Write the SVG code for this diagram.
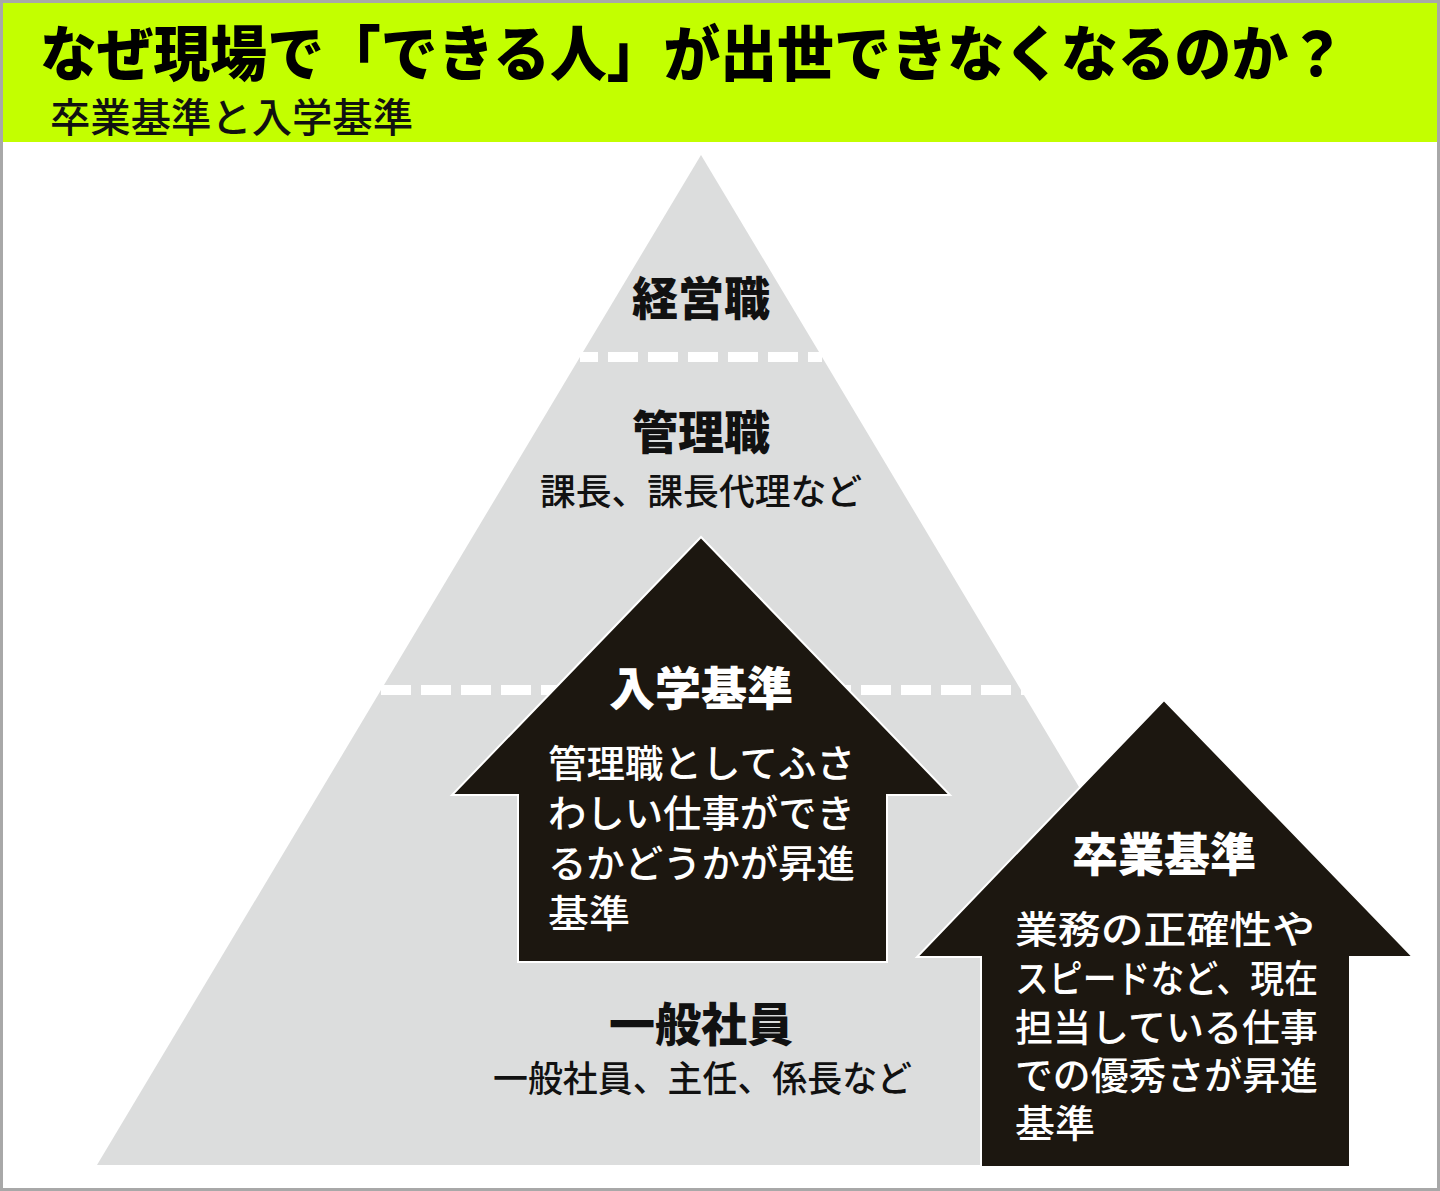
<svg xmlns="http://www.w3.org/2000/svg" width="1440" height="1191" viewBox="0 0 1440 1191">
<style>
text{font-family:"Noto Sans CJK JP","Noto Sans CJK SC",sans-serif;}
.title{font-size:60px;font-weight:900;fill:#000;}
.sub{font-size:40px;font-weight:500;fill:#111;}
.layer{fill:#dcdddd;}
.head{font-size:46px;font-weight:900;fill:#111;text-anchor:middle;}
.desc{font-size:36px;font-weight:500;fill:#111;}
.arrow{fill:#1c1710;stroke:#ffffff;stroke-width:2;stroke-linejoin:miter;}
.ahead{font-size:46px;font-weight:900;fill:#fff;text-anchor:middle;}
.abody{font-size:38px;font-weight:500;fill:#fff;}
.sep{stroke:#ffffff;stroke-width:10;stroke-dasharray:30 10;fill:none;}
</style>
<rect x="0" y="0" width="1440" height="1191" fill="#ffffff"/>
<g id="header">
<rect x="0" y="0" width="1440" height="142" fill="#c3ff00"/>
<rect x="0" y="0" width="1440" height="3" fill="#9ccc00"/>
<text class="title" x="40" y="76" textLength="1305" lengthAdjust="spacingAndGlyphs">なぜ現場で「できる人」が出世できなくなるのか？</text>
<text class="sub" x="50" y="132" textLength="363" lengthAdjust="spacingAndGlyphs">卒業基準と入学基準</text>
</g>
<g id="layer-executive">
<polygon class="layer" points="701,155 822,357 580,357"/>
<text class="head" x="701" y="315">経営職</text>
</g>
<g id="layer-manager">
<polygon class="layer" points="580,357 822,357 1021,690 381,690"/>
<text class="head" x="701" y="449">管理職</text>
<text class="desc" x="540" y="505" textLength="322" lengthAdjust="spacingAndGlyphs">課長、課長代理など</text>
</g>
<g id="layer-staff">
<polygon class="layer" points="381,690 1021,690 1305,1165 97,1165"/>
<text class="head" x="701" y="1041">一般社員</text>
<text class="desc" x="493" y="1092" textLength="419" lengthAdjust="spacingAndGlyphs">一般社員、主任、係長など</text>
</g>
<g id="connectors">
<line class="sep" x1="580" y1="357" x2="822" y2="357" stroke-dashoffset="12"/>
<line class="sep" x1="381" y1="690" x2="1024" y2="690"/>
</g>
<g id="arrow-entrance">
<polygon class="arrow" points="701,537 950,795 887,795 887,962 518,962 518,795 452,795"/>
<text class="ahead" x="701" y="705">入学基準</text>
<text class="abody" x="548" y="777" textLength="307" lengthAdjust="spacingAndGlyphs">管理職としてふさ</text>
<text class="abody" x="548" y="827" textLength="307" lengthAdjust="spacingAndGlyphs">わしい仕事ができ</text>
<text class="abody" x="548" y="877" textLength="307" lengthAdjust="spacingAndGlyphs">るかどうかが昇進</text>
<text class="abody" x="548" y="927" textLength="82" lengthAdjust="spacingAndGlyphs">基準</text>
</g>
<g id="arrow-graduation">
<polygon class="arrow" points="1164,700 1413,957 1350,957 1350,1167 981,1167 981,957 917,957"/>
<text class="ahead" x="1164" y="871">卒業基準</text>
<text class="abody" x="1015" y="943" textLength="300" lengthAdjust="spacingAndGlyphs">業務の正確性や</text>
<text class="abody" x="1015" y="992" textLength="303" lengthAdjust="spacingAndGlyphs">スピードなど、現在</text>
<text class="abody" x="1015" y="1041" textLength="303" lengthAdjust="spacingAndGlyphs">担当している仕事</text>
<text class="abody" x="1015" y="1089" textLength="303" lengthAdjust="spacingAndGlyphs">での優秀さが昇進</text>
<text class="abody" x="1015" y="1137" textLength="80" lengthAdjust="spacingAndGlyphs">基準</text>
</g>
<rect x="1.5" y="1.5" width="1437" height="1188" fill="none" stroke="#a8a8a8" stroke-width="3"/>
</svg>
